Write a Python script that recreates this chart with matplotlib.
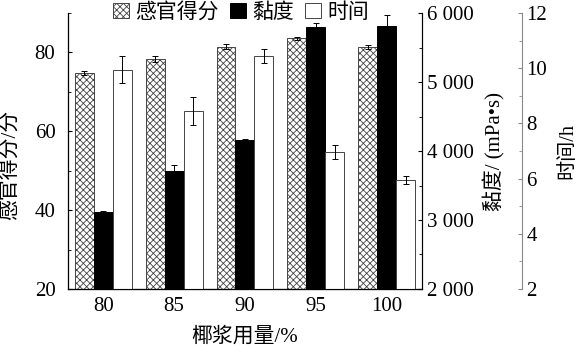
import matplotlib as mpl
import matplotlib.pyplot as plt
from matplotlib.ticker import MultipleLocator, FuncFormatter
import numpy as np

plt.rcParams['font.family'] = ['Liberation Serif', 'Noto Sans CJK SC']
plt.rcParams['hatch.color'] = '#555555'
plt.rcParams['hatch.linewidth'] = 0.6

categories = ['80', '85', '90', '95', '100']
score = [74.8, 78.3, 81.5, 83.6, 81.4]
score_err = [0.4, 0.7, 0.6, 0.4, 0.4]
viscosity = [3110, 3710, 4160, 5800, 5815]
viscosity_err = [20, 90, 10, 50, 150]
time_h = [9.95, 8.45, 10.45, 6.95, 5.95]
time_err = [0.5, 0.5, 0.25, 0.25, 0.15]

x = np.arange(len(categories))
w = 0.268
fs = 15

fig = plt.figure(figsize=(5.78, 3.52), dpi=100)
ax = fig.add_axes([0.1176, 0.179, 0.6125, 0.784])
ax2 = ax.twinx()
ax3 = ax.twinx()
ax3.spines['right'].set_position(('outward', 72))

ebk = dict(elinewidth=0.7, capsize=2, capthick=0.7, ecolor='black')
b1 = ax.bar(x - w, score, w, yerr=score_err, color='white', edgecolor='#444444',
            hatch='xxxxx', linewidth=0.7, error_kw=ebk, label='感官得分')
b2 = ax2.bar(x, viscosity, w, yerr=viscosity_err, color='black', edgecolor='black',
             linewidth=0.7, error_kw=ebk, label='黏度')
b3 = ax3.bar(x + w, time_h, w, yerr=time_err, color='white', edgecolor='#444444',
             linewidth=0.7, error_kw=ebk, label='时间')

ax.set_xlim(-0.5, 4.5)
ax.set_ylim(20, 90)
ax2.set_ylim(2000, 6000)
ax3.set_ylim(2, 12)

ax.set_xticks(x)
ax.set_xticklabels(categories, fontsize=fs)
ax.yaxis.set_major_locator(MultipleLocator(20))
ax.yaxis.set_minor_locator(MultipleLocator(10))
ax2.yaxis.set_major_locator(MultipleLocator(1000))
ax2.yaxis.set_minor_locator(MultipleLocator(500))
ax2.yaxis.set_major_formatter(FuncFormatter(lambda v, p: f'{int(v)//1000} {int(v)%1000:03d}'))
ax3.yaxis.set_major_locator(MultipleLocator(2))
ax3.yaxis.set_minor_locator(MultipleLocator(1))

for a in (ax, ax2, ax3):
    a.tick_params(axis='both', which='both', direction='in', labelsize=fs)
    a.tick_params(which='major', length=3)
    a.tick_params(which='minor', length=2)
    a.spines['top'].set_visible(False)
ax.tick_params(axis='x', which='major', length=0, pad=6)
ax.tick_params(axis='y', pad=9)
ax3.tick_params(axis='y', pad=3)
ax.spines['left'].set_color('#777777')
ax3.spines['right'].set_color('#888888')
ax3.tick_params(axis='y', which='both', color='#888888')

ax.set_ylabel('感官得分/分', fontsize=fs)
ax.yaxis.set_label_coords(-0.135, 0.45)
ax2.set_ylabel('黏度/ (mPa•s)', fontsize=fs)
ax2.yaxis.set_label_coords(1.172, 0.5)
ax3.set_ylabel('时间/h', fontsize=fs - 0.5)
ax3.yaxis.set_label_coords(1.385, 0.5)
ax.set_xlabel('椰浆用量/%', fontsize=fs)
ax.xaxis.set_label_coords(0.5, -0.14)

fig.legend(handles=[b1, b2, b3], loc='center', bbox_to_anchor=(0.417, 0.963), ncol=3,
           frameon=False, fontsize=fs, handlelength=0.75, handleheight=0.75,
           handletextpad=0.3, columnspacing=0.55, borderpad=0)

fig.savefig('out.png', dpi=100)
